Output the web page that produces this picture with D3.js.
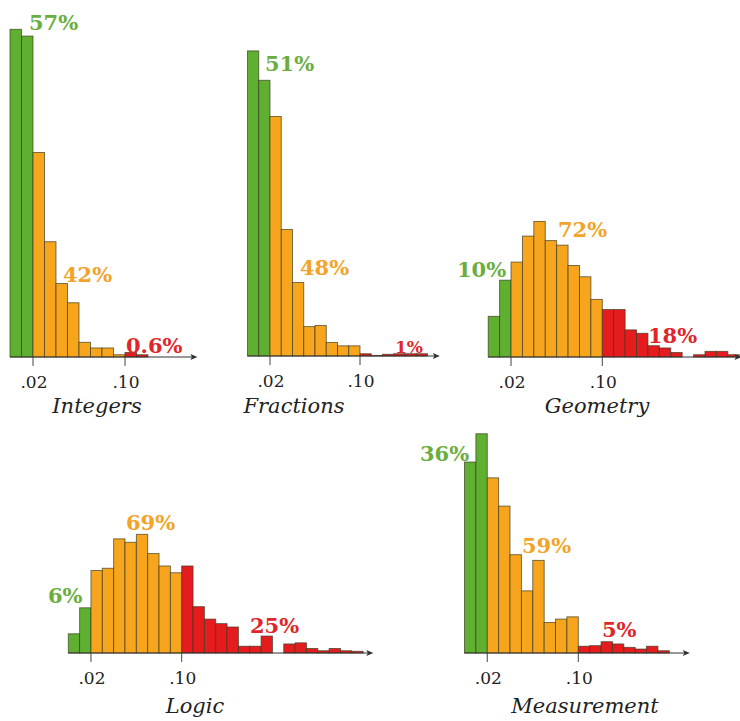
<!DOCTYPE html>
<html>
<head>
<meta charset="utf-8">
<script src="https://cdn.jsdelivr.net/npm/d3@7"></script>
<style>
  body { margin: 0; background: #fff; }
  .tick-label { font-family: "DejaVu Serif", serif; font-size: 17px; fill: #222; }
  .title { font-family: "DejaVu Serif", serif; font-style: italic; font-size: 21px; fill: #222; }
  .share { font-family: "DejaVu Serif", serif; font-weight: bold; font-size: 21px; }
</style>
</head>
<body>
<div id="chart"></div>
<script>
// share of items per difficulty bin (bin width .01)
var categories = ["Integers", "Fractions", "Geometry", "Logic", "Measurement"];
var integersBins    = [29.0, 28.4, 18.1, 10.2, 6.5, 4.8, 1.3, 0.8, 0.8, 0.2, 0.4, 0.2];
var fractionsBins   = [27.0, 24.4, 21.2, 11.2, 6.5, 2.6, 2.7, 1.2, 0.9, 0.9, 0.2, 0.05, 0.15, 0.2, 0.2, 0.2];
var geometryBins    = [3.6, 6.8, 8.4, 10.7, 12.0, 10.3, 9.9, 8.1, 7.1, 5.1, 4.2, 4.2, 2.4, 2.1, 1.0, 0.8, 0.4, 0, 0.2, 0.5, 0.5, 0.2];
var logicBins       = [1.7, 4.0, 7.3, 7.5, 10.1, 9.8, 10.5, 8.8, 7.7, 7.1, 7.7, 4.1, 3.0, 2.6, 2.3, 0.6, 0.6, 1.5, 0, 0.8, 0.9, 0.4, 0.2, 0.4, 0.2, 0.15];
var measurementBins = [16.9, 19.4, 15.5, 13.0, 8.7, 5.5, 8.2, 2.7, 3.0, 3.2, 0.6, 0.65, 1.0, 0.8, 0.5, 0.35, 0.6, 0.2];
var greenShare  = ["57%", "51%", "10%", "6%", "36%"];
var orangeShare = ["42%", "48%", "72%", "69%", "59%"];
var redShare    = ["0.6%", "1%", "18%", "25%", "5%"];
var tickValues = [0.02, 0.10];
var tickLabels = [".02", ".10"];
var binWidth = 0.01;

var allBins = [integersBins, fractionsBins, geometryBins, logicBins, measurementBins];
var colors = { green: "#5fb030", orange: "#f6a51c", red: "#e61b1e" };
var textColors = { green: "#6cae3e", orange: "#f2a42a", red: "#e0262a" };

// where each small chart sits on the page
var layout = [
  { x0: 10,    x10: 125,   base: 357, end: 0.163, title: [97, 413],  labels: [[29, 30], [63, 282], [126, 353]] },
  { x0: 247.5, x10: 360,   base: 356, end: 0.171, title: [294, 413], labels: [[265, 71], [300, 275], [395, 353]], redSize: 17 },
  { x0: 488.2, x10: 602.3, base: 357, end: 0.222, title: [597, 413], labels: [[457, 277], [558, 237], [648, 343]] },
  { x0: 68.3,  x10: 181.7, base: 653, end: 0.269, title: [195, 713], labels: [[48, 603], [126, 530], [250, 633]] },
  { x0: 464.5, x10: 578.3, base: 653, end: 0.198, title: [585, 713], labels: [[420, 461], [522, 553], [602, 637]] }
];

var svg = d3.select("#chart").append("svg")
  .attr("width", 740)
  .attr("height", 721);

function binColor(x){
  if (x < 0.02 - 1e-9) return "green";
  if (x < 0.10 - 1e-9) return "orange";
  return "red";
}

categories.forEach(function(name, k){
  var L = layout[k];
  var bins = allBins[k];
  var x = d3.scaleLinear().domain([0, 0.10]).range([L.x0, L.x10]);
  var y = d3.scaleLinear().domain([0, 30]).range([L.base, L.base - 339]);
  var g = svg.append("g").attr("class", "panel");

  g.selectAll("rect.bar")
    .data(bins)
    .enter()
    .append("rect")
    .attr("class", "bar")
    .attr("x", function(d, i){ return x(i * binWidth); })
    .attr("y", function(d){ return y(d); })
    .attr("width", function(d, i){ return x((i + 1) * binWidth) - x(i * binWidth); })
    .attr("height", function(d){ return L.base - y(d); })
    .style("fill", function(d, i){ return colors[binColor(i * binWidth)]; })
    .style("stroke", "#3b3a22")
    .style("stroke-opacity", 0.75)
    .style("stroke-width", 0.9)
    .style("display", function(d){ return d > 0 ? null : "none"; });

  // axis with arrow
  var xEnd = x(L.end);
  g.append("line")
    .attr("x1", L.x0).attr("x2", xEnd - 4)
    .attr("y1", L.base).attr("y2", L.base)
    .style("stroke", "#333").style("stroke-width", 1.2);
  g.append("path")
    .attr("d", "M" + xEnd + "," + L.base + " l-7,-3 l1.5,3 l-1.5,3 z")
    .style("fill", "#333");

  g.selectAll("line.tick")
    .data(tickValues)
    .enter()
    .append("line")
    .attr("class", "tick")
    .attr("x1", function(d){ return x(d); })
    .attr("x2", function(d){ return x(d); })
    .attr("y1", L.base)
    .attr("y2", L.base + 9)
    .style("stroke", "#444").style("stroke-width", 1);

  g.selectAll("text.tick-label")
    .data(tickValues)
    .enter()
    .append("text")
    .attr("class", "tick-label")
    .attr("x", function(d){ return x(d) + 1; })
    .attr("y", L.base + 31)
    .attr("text-anchor", "middle")
    .text(function(d, i){ return tickLabels[i]; });

  g.append("text")
    .attr("class", "title")
    .attr("x", L.title[0])
    .attr("y", L.title[1])
    .attr("text-anchor", "middle")
    .text(name);

  var shares = [
    { key: "green", text: greenShare[k] },
    { key: "orange", text: orangeShare[k] },
    { key: "red", text: redShare[k] }
  ];
  g.selectAll("text.share")
    .data(shares)
    .enter()
    .append("text")
    .attr("class", "share")
    .attr("x", function(d, i){ return L.labels[i][0]; })
    .attr("y", function(d, i){ return L.labels[i][1]; })
    .style("fill", function(d){ return textColors[d.key]; })
    .style("font-size", function(d){ return d.key == "red" && L.redSize ? L.redSize + "px" : null; })
    .text(function(d){ return d.text; });
});
</script>
</body>
</html>
